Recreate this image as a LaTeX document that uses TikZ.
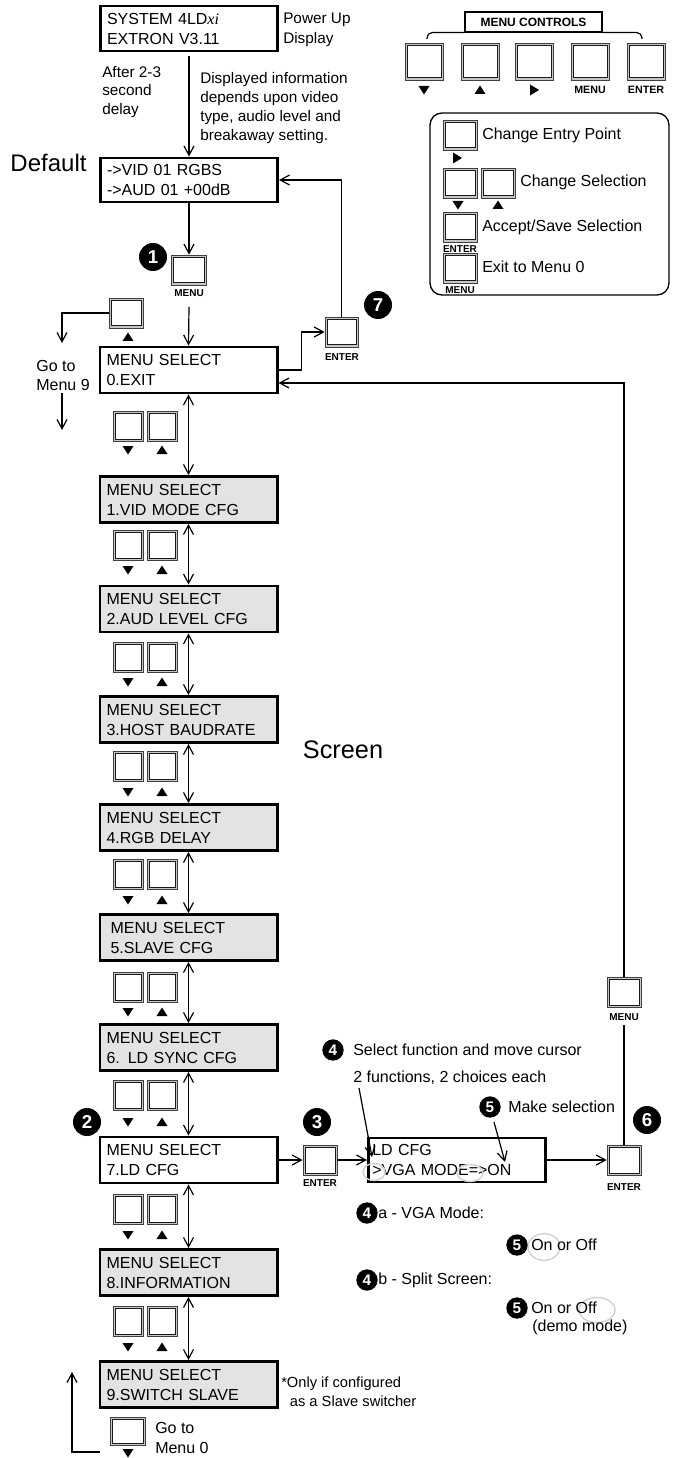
\documentclass[tikz,border=0pt]{standalone}
\usepackage{fontspec}
\setmainfont{Liberation Sans}
\newfontfamily\serifit{Liberation Serif}
\usetikzlibrary{arrows.meta,calc}
\begin{document}
\begin{tikzpicture}[x=0.75pt,y=-0.75pt,
 ln/.style={line width=0.9pt},
 arr/.style={line width=0.9pt,-{Straight Barb[length=7pt,width=7.5pt]}},
 dbl/.style={line width=0.9pt,{Straight Barb[length=7pt,width=7.5pt]}-{Straight Barb[length=7pt,width=7.5pt]}},
 lcd/.style={draw,line width=2.2pt,minimum width=132.75pt,minimum height=34.5pt,text width=123pt,inner xsep=4.9pt,inner ysep=0pt,align=left,font=\fontsize{12}{15}\selectfont},
 lcdg/.style={lcd,fill=gray!22},
 btn/.style={draw=black!75,line width=0.5pt,fill=black!22,minimum width=25.5pt,minimum height=22.5pt,inner sep=0pt,
   path picture={\draw[black!90,line width=0.55pt,fill=white] ([shift={(1.6pt,1.6pt)}]path picture bounding box.south west) rectangle ([shift={(-1.6pt,-1.6pt)}]path picture bounding box.north east);}},
 sbtn/.style={btn,minimum width=22.5pt},
 cbtn/.style={btn,minimum width=28.5pt,minimum height=27.75pt},
 blbl/.style={font=\bfseries\fontsize{7.5}{8}\selectfont,inner sep=0pt},
 note/.style={font=\fontsize{12}{14.25}\selectfont,align=left,inner sep=0pt},
 badge/.style={circle,fill=black,text=white,font=\bfseries\fontsize{14}{14}\selectfont,minimum size=21pt,inner sep=0pt},
 sbadge/.style={badge,minimum size=16pt,font=\bfseries\fontsize{11.5}{11.5}\selectfont},
 hl/.style={draw=gray!35,line width=1.1pt},
 tdown/.pic={\fill (-5.5,-4) -- (5.5,-4) -- (0,4.5) -- cycle;},
 tup/.pic={\fill (-5.5,4) -- (5.5,4) -- (0,-4.5) -- cycle;},
 tright/.pic={\fill (-4,-5.5) -- (-4,5.5) -- (5,0) -- cycle;}
]
\useasboundingbox (0,0) rectangle (672,1458);

% ---------- top: power up and default ----------
\node[lcd,minimum height=33.75pt] (pu) at (189,28.5) {SYSTEM 4LD{\serifit\itshape xi}\\EXTRON V3.11};
\node[note,anchor=west,font=\fontsize{11.5}{15}\selectfont] (put) at (283,30) {Power Up\\Display};
\node[note,anchor=west,font=\fontsize{11.5}{14}\selectfont] (after) at (102,92) {After 2-3\\second\\delay};
\node[note,anchor=west,font=\fontsize{11.5}{14.25}\selectfont] (disp) at (200,108.5) {Displayed information\\depends upon video\\type, audio level and\\breakaway setting.};
\node[inner sep=0pt,font=\fontsize{18}{18}\selectfont] (dflt) at (48.5,163) {Default};
\node[lcd,minimum height=33pt] (def) at (189,180) {->VID 01 RGBS\\->AUD 01 +00dB};
\draw[arr] ($(pu.south)+(0,4)$) -- (def.north);

% ---------- MENU button 1 ----------
\node[btn,minimum width=26.25pt] (m1) at (189,270) {};
\node[blbl] (m1l) at (189,293) {MENU};
\node[badge] (b1) at (153,257) {1};
\draw[arr] (def.south) -- (m1.north);

% ---------- menu boxes ----------
\node[lcd]  (s0) at (188.5,370)    {MENU SELECT\\0.EXIT};
\node[lcdg] (s1) at (188.5,499.5)  {MENU SELECT\\1.VID MODE CFG};
\node[lcdg] (s2) at (188.5,609)    {MENU SELECT\\2.AUD LEVEL CFG};
\node[lcdg] (s3) at (188.5,719.5)  {MENU SELECT\\3.HOST BAUDRATE};
\node[lcdg] (s4) at (188.5,827.5)  {MENU SELECT\\4.RGB DELAY};
\node[lcdg] (s5) at (188.5,937.5)  {\hspace*{3pt}MENU SELECT\\\hspace*{3pt}5.SLAVE CFG};
\node[lcdg] (s6) at (188.5,1047.5) {MENU SELECT\\6. LD SYNC CFG};
\node[lcd]  (s7) at (188.5,1160)   {MENU SELECT\\7.LD CFG};
\node[lcdg] (s8) at (188.5,1272.5) {MENU SELECT\\8.INFORMATION};
\node[lcdg] (s9) at (188.5,1384.5) {MENU SELECT\\9.SWITCH SLAVE};
\draw[arr] ($(m1l.south)+(0,10)$) -- (s0.north);

% button pairs and double arrows
\foreach \i/\j/\yb/\yt in {0/1/426/450,1/2/545/570,2/3/657/682,3/4/766/792,4/5/874/900,5/6/987/1012,6/7/1095/1122,7/8/1209/1235,8/9/1321/1347}{
  \node[sbtn] (dn\i) at (128,\yb) {};
  \node[sbtn] (up\i) at (162,\yb) {};
  \pic at (128,\yt) {tdown};
  \pic at (162,\yt) {tup};
  \draw[dbl] (s\i.south) -- (s\j.north);
}

% ---------- left: go to menu 9 ----------
\node[btn] (u0) at (126,313) {};
\pic at (128,337) {tup};
\node[note,align=left] (g9) at (63,375) {Go to\\Menu 9};
\coordinate (g9a) at (62,343);
\coordinate (g9b) at (62,430);
\draw[arr] (u0.west) -| (g9a);
\draw[arr] (62,393) -- (g9b);

% ---------- ENTER 7 loop ----------
\node[btn,minimum width=24.75pt] (e7) at (341.5,332) {};
\node[blbl] (e7l) at (342,357) {ENTER};
\node[badge] (b7) at (378,305) {7};
\draw[arr] (s0.east) -- ++(23,0) |- (e7.west);
\draw[arr] (e7.north) |- (def.east);

% ---------- bottom: go to menu 0 ----------
\node[btn,minimum width=26.25pt,minimum height=21pt] (g0) at (127.5,1431) {};
\pic at (128,1453) {tdown};
\node[note,anchor=west,font=\fontsize{12}{15}\selectfont] (g0t) at (155,1438) {Go to\\Menu 0};
\coordinate (g0s) at (100,1452);
\coordinate (g0e) at (72,1372);
\draw[arr] (g0s) -| (g0e);
\node[note,anchor=west,font=\fontsize{11}{14.25}\selectfont] (only) at (281,1392) {*Only if configured\\\hspace*{6.5pt}as a Slave switcher};

\node[inner sep=0pt,font=\fontsize{19}{19}\selectfont] (scr) at (343,750) {Screen};

% ---------- LD CFG branch ----------
\node[badge] (b2) at (87,1122) {2};
\node[btn] (e3) at (320,1160) {};
\node[blbl] (e3l) at (320,1183) {ENTER};
\node[badge] (b3) at (317,1122) {3};
\node[lcd,minimum height=33pt,text width=127pt,inner xsep=2.9pt] (ld) at (457,1160) {LD CFG\\>VGA MODE=>ON};
\draw[arr] (s7.east) -- (e3.west);
\draw[arr] (e3.east) -- (ld.west);

\node[btn] (e6) at (624,1160) {};
\node[blbl] (e6l) at (624,1187) {ENTER};
\node[badge] (b6) at (647,1120) {6};
\draw[arr] (ld.east) -- (e6.west);
\node[btn] (m6) at (624,992) {};
\node[blbl] (m6l) at (624,1017) {MENU};
\draw[ln] (e6.north) -- ($(m6l.south)+(0,4)$);
\coordinate (c6) at (624,383);
\draw[arr] (m6.north) -- (c6) -- (s0.east |- c6);

% highlight ellipses
\draw[hl] (374,1172) ellipse [x radius=8.25pt, y radius=6.4pt];
\draw[hl] (470,1173) ellipse [x radius=9.75pt, y radius=6.4pt];
\draw[hl] (544,1247) ellipse [x radius=12pt, y radius=10pt];
\draw[hl] (597,1310) ellipse [x radius=13.5pt, y radius=9.4pt];

\node[sbadge] (b4) at (333,1050) {4};
\node[note,anchor=west] (sel) at (353,1050) {Select function and move cursor};
\node[note,anchor=west] (fun) at (353,1078) {2 functions, 2 choices each};
\coordinate (l4s) at (359,1088);
\coordinate (l4e) at (372,1157);
\draw[arr] (l4s) -- (l4e);
\node[sbadge] (b5) at (490,1107) {5};
\node[note,anchor=west] (mk) at (508,1107) {Make selection};
\coordinate (l5s) at (494,1122);
\coordinate (l5e) at (505,1162);
\draw[arr] (l5s) -- (l5e);

\node[sbadge] (b4a) at (367,1213) {4};
\node[note,anchor=west] (vga) at (378,1213) {a - VGA Mode:};
\node[sbadge] (b5a) at (517,1245) {5};
\node[note,anchor=west] (oo1) at (531,1245) {On or Off};
\node[sbadge] (b4b) at (367,1280) {4};
\node[note,anchor=west] (spl) at (378,1280) {b - Split Screen:};
\node[sbadge] (b5b) at (517,1308) {5};
\node[note,anchor=west] (oo2) at (531,1308) {On or Off};
\node[note,anchor=west] (demo) at (532,1327) {(demo mode)};

% ---------- menu controls legend ----------
\node[draw,line width=0.8pt,font=\bfseries\fontsize{9}{10}\selectfont,minimum width=102.75pt,minimum height=15pt,inner sep=0pt] (mc) at (533.5,22) {MENU CONTROLS};
\draw[ln,rounded corners=4pt] (mc.south west) -- (mc.south west -| 427,0) -- (427,39);
\draw[ln,rounded corners=4pt] (mc.south east) -- (mc.south east -| 642,0) -- (642,39);
\node[cbtn] (c1) at (424,61.5) {};
\node[cbtn] (c2) at (480,61.5) {};
\node[cbtn] (c3) at (534,61.5) {};
\node[cbtn] (c4) at (590,61.5) {};
\node[cbtn] (c5) at (646,61.5) {};
\pic at (424,90) {tdown};
\pic at (480,90) {tup};
\pic at (534,90) {tright};
\node[blbl,font=\bfseries\fontsize{8}{8}\selectfont] (c4l) at (590,90) {MENU};
\node[blbl,font=\bfseries\fontsize{8}{8}\selectfont] (c5l) at (646,90) {ENTER};

\node[draw,line width=1pt,rounded corners=9pt,minimum width=179.25pt,minimum height=136.5pt] (leg) at (549.5,204) {};
\node[btn] (k1) at (460,135) {};
\pic at (457,158) {tright};
\node[note,anchor=west] (k1t) at (482,135) {Change Entry Point};
\node[btn] (k2) at (460,183) {};
\node[btn] (k3) at (498.5,183) {};
\pic at (458,205) {tdown};
\pic at (498,205) {tup};
\node[note,anchor=west] (k2t) at (520,182) {Change Selection};
\node[btn] (k4) at (460,227) {};
\node[blbl] (k4l) at (460,249) {ENTER};
\node[note,anchor=west] (k4t) at (482,227) {Accept/Save Selection};
\node[btn] (k5) at (460,268) {};
\node[blbl] (k5l) at (460,290) {MENU};
\node[note,anchor=west] (k5t) at (482,267) {Exit to Menu 0};
\end{tikzpicture}
\end{document}
